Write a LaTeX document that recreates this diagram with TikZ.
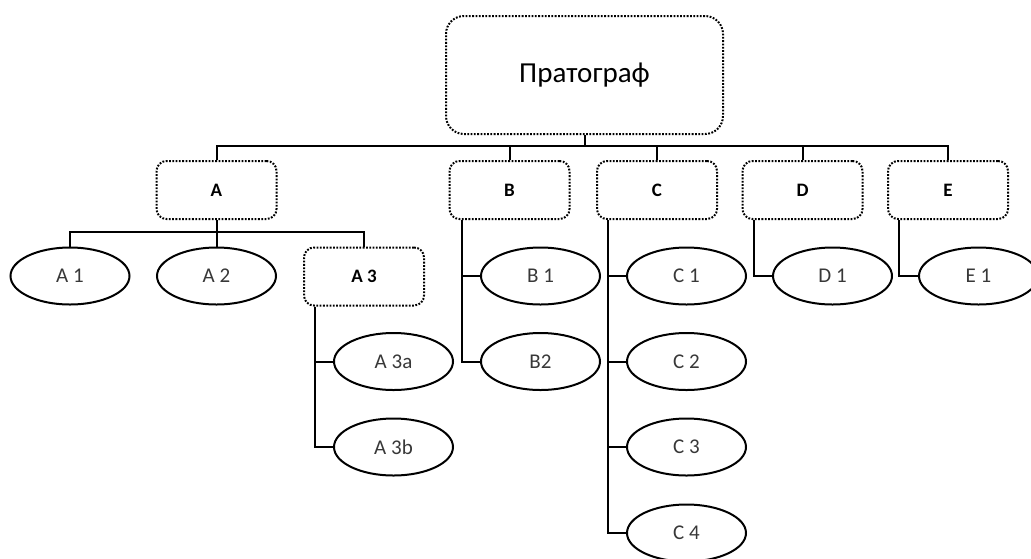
\documentclass[tikz,border=0pt]{standalone}
\usepackage{fontspec}
\setmainfont{Carlito}
\usetikzlibrary{shapes.geometric}
\begin{document}
\begin{tikzpicture}[x=1pt,y=-1pt,
  line width=2pt,
  box/.style={draw, dash pattern=on 1.8pt off 1.5pt, rounded corners=10pt,
    minimum width=120pt, minimum height=58pt, inner sep=0pt,
    font=\fontsize{19}{22}\selectfont\bfseries},
  leaf/.style={draw, ellipse, minimum width=119pt, minimum height=57pt,
    inner sep=0pt, text=black!78, font=\fontsize{21}{24}\selectfont},
  link/.style={line width=2pt}]
\useasboundingbox (0,0) rectangle (1031,558);

% root
\node[box, rounded corners=18pt, minimum width=277pt, minimum height=118pt,
  font=\fontsize{29}{33}\selectfont] (root) at (584.5,75) {Пратограф};

% second level
\node[box] (A) at (216.5,190) {A};
\node[box] (B) at (509.5,190) {B};
\node[box] (C) at (657,190) {C};
\node[box] (D) at (802.5,190) {D};
\node[box] (E) at (948,190) {E};

% leaves and sub-boxes
\node[leaf] (A1) at (70,276) {A 1};
\node[leaf] (A2) at (216.5,276) {A 2};
\node[box] (A3) at (364,276.5) {A 3};
\node[leaf] (A3a) at (393.5,361.5) {A 3a};
\node[leaf] (A3b) at (393.5,447) {A 3b};

\node[leaf] (B1) at (540.5,276) {B 1};
\node[leaf] (B2) at (540.5,361.5) {B2};

\node[leaf] (C1) at (686.5,276) {C 1};
\node[leaf] (C2) at (686.5,361.5) {C 2};
\node[leaf] (C3) at (686.5,447) {C 3};
\node[leaf] (C4) at (686.5,533) {C 4};

\node[leaf] (D1) at (832.5,276) {D 1};
\node[leaf] (E1) at (978.5,276) {E 1};

% connectors from the root
\coordinate (bus) at (584.5,146);
\draw[link] (root.south) -- (bus);
\foreach \n in {A,B,C,D,E} \draw[link] (bus) -| (\n.north);

% connectors under A
\coordinate (abus) at (216.5,232);
\draw[link] (A.south) -- (abus);
\foreach \n in {A1,A2,A3} \draw[link] (abus) -| (\n.north);

% side rails
\foreach \n in {A3a,A3b} \draw[link] ([xshift=12pt]A3.south west) |- (\n.west);
\foreach \n in {B1,B2} \draw[link] ([xshift=13pt]B.south west) |- (\n.west);
\foreach \n in {C1,C2,C3,C4} \draw[link] ([xshift=12pt]C.south west) |- (\n.west);
\draw[link] ([xshift=12pt]D.south west) |- (D1.west);
\draw[link] ([xshift=12pt]E.south west) |- (E1.west);
\end{tikzpicture}
\end{document}
